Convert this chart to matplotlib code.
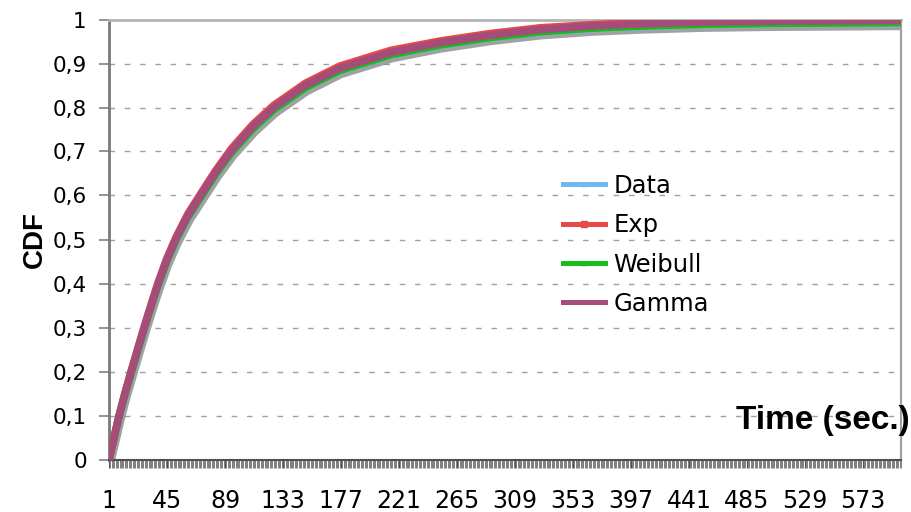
import matplotlib
matplotlib.use("Agg")
import matplotlib.pyplot as plt
import matplotlib.patheffects as pe
from matplotlib.lines import Line2D
import numpy as np

# values (category index = second)
cats = [1, 5, 9, 13, 18, 23, 28, 33, 38, 45, 52, 61, 71, 82, 94, 110, 126, 150,
        176, 215, 252, 290, 328, 366, 404, 450, 500, 550, 602]
gamma = [0.000, 0.052, 0.103, 0.148, 0.201, 0.252, 0.302, 0.350, 0.397, 0.455,
         0.503, 0.555, 0.602, 0.653, 0.702, 0.756, 0.800, 0.850, 0.889, 0.925,
         0.947, 0.964, 0.977, 0.985, 0.990, 0.994, 0.996, 0.997, 0.998]
expo = [0.000, 0.053, 0.104, 0.150, 0.203, 0.254, 0.305, 0.353, 0.400, 0.458,
        0.506, 0.559, 0.606, 0.657, 0.707, 0.761, 0.805, 0.855, 0.894, 0.930,
        0.951, 0.968, 0.981, 0.988, 0.993, 0.996, 0.998, 0.998, 0.999]
weibull = [0.000, 0.051, 0.102, 0.147, 0.199, 0.250, 0.300, 0.348, 0.394, 0.452,
           0.500, 0.552, 0.598, 0.649, 0.698, 0.751, 0.795, 0.845, 0.884, 0.920,
           0.942, 0.959, 0.972, 0.980, 0.985, 0.989, 0.991, 0.992, 0.993]
data = [0.000, 0.050, 0.101, 0.146, 0.198, 0.249, 0.299, 0.347, 0.393, 0.451,
        0.499, 0.551, 0.597, 0.648, 0.697, 0.750, 0.794, 0.844, 0.883, 0.919,
        0.941, 0.958, 0.971, 0.979, 0.984, 0.988, 0.990, 0.991, 0.992]
n_cats = 602
xtick_labels = list(range(1, 574, 44))
ytick_labels = ["0", "0,1", "0,2", "0,3", "0,4", "0,5", "0,6", "0,7", "0,8", "0,9", "1"]

c_data, c_exp, c_weib, c_gam = "#72b8f0", "#e54a4a", "#19bd19", "#a64c7a"

fig = plt.figure(figsize=(9.12, 5.12), dpi=100)
ax = fig.add_axes([109 / 912, 1 - 459.5 / 512, 792 / 912, 440 / 512])

shadow = [pe.SimpleLineShadow(offset=(1.2, -2.4), shadow_color="#7a7a7a", alpha=0.7), pe.Normal()]
lw = 5.5
ax.plot(cats, data, color=c_data, lw=lw, zorder=2, path_effects=shadow)
ax.plot(cats, expo, color=c_exp, lw=lw, zorder=3)
ax.plot(cats, weibull, color=c_weib, lw=lw, zorder=4)
ax.plot(cats, gamma, color=c_gam, lw=lw, zorder=5)

ax.set_xlim(1, n_cats)
ax.set_ylim(0, 1)
ax.set_yticks(np.arange(0, 1.01, 0.1))
ax.set_yticklabels(ytick_labels)
ax.set_xticks(xtick_labels)
ax.set_xticklabels([str(v) for v in xtick_labels])
ax.set_xticks(np.arange(1, n_cats + 1), minor=True)
ax.yaxis.grid(True, color="#a0a0a0", lw=1.0, linestyle=(0, (4, 7)))
ax.set_axisbelow(True)

ax.tick_params(axis="y", length=7, width=1.2, color="#808080", pad=9,
               labelsize=15.5, labelcolor="black")
ax.tick_params(axis="x", which="major", length=6, width=0.8, color="#505050",
               pad=15, labelsize=17)
ax.tick_params(axis="x", which="minor", length=6, width=0.6, color="#6a6a6a")

ax.spines["left"].set_color("#7a7a7a")
ax.spines["left"].set_linewidth(2)
ax.spines["bottom"].set_color("#505050")
ax.spines["bottom"].set_linewidth(1.5)
ax.spines["top"].set_color("#b4b4b4")
ax.spines["top"].set_linewidth(2)
ax.spines["right"].set_color("#a0a0a0")
ax.spines["right"].set_linewidth(1.5)

ax.set_ylabel("CDF", fontsize=20, fontweight="bold", family="Liberation Sans", labelpad=3)
fig.text(910 / 912, 1 - 421 / 512, "Time (sec.)", fontsize=24, fontweight="bold",
         family="Liberation Sans", ha="right", va="center")

handles = [
    Line2D([], [], color=c_data, lw=3.6, marker="^", ms=3),
    Line2D([], [], color=c_exp, lw=3.6, marker="s", ms=4),
    Line2D([], [], color=c_weib, lw=3.6, marker="^", ms=3),
    Line2D([], [], color=c_gam, lw=3.6, marker="x", ms=3),
]
ax.legend(handles, ["Data", "Exp", "Weibull", "Gamma"], loc="upper left",
          bbox_to_anchor=(563 / 912, 1 - 174 / 512), bbox_transform=fig.transFigure,
          frameon=False, fontsize=17.5, handlelength=1.73, handletextpad=0.35,
          labelspacing=0.63, borderpad=0, borderaxespad=0)

fig.savefig("out.png", dpi=100)
